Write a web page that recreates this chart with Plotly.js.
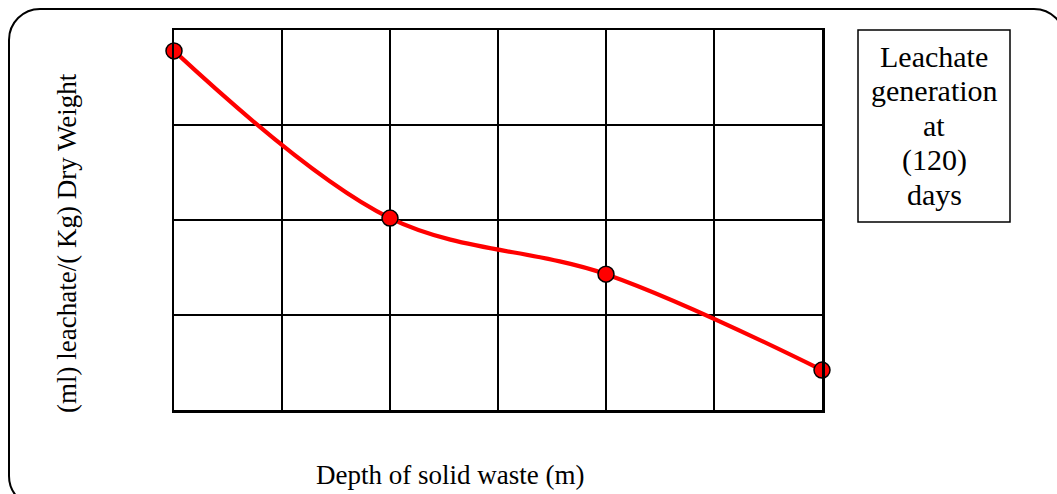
<!DOCTYPE html>
<html>
<head>
<meta charset="utf-8">
<script src="https://cdn.plot.ly/plotly-3.0.1.min.js"></script>
<style>
  html, body { margin: 0; padding: 0; background: #ffffff; }
  #wrap { position: relative; width: 1057px; height: 494px; overflow: hidden; }
  #frame { position: absolute; left: 8px; top: 8px; width: 1054px; height: 496px;
           border: 2px solid #000; border-radius: 32px; pointer-events: none; }
  #chart { position: absolute; left: 0; top: 0; width: 1057px; height: 494px; }
</style>
</head>
<body>
<div id="wrap">
  <div id="frame"></div>
  <div id="chart"></div>
</div>
<script>
// Data (positions in grid units; the chart has no tick labels)
const depth = [0, 2, 4, 6];
const leachate = [3.78, 2.02, 1.43, 0.42];

const xTitle = 'Depth of solid waste (m)';
const yTitle = '(ml) leachate/( Kg) Dry Weight';
const boxLines = ['Leachate', 'generation', 'at', '(120)', 'days'];

const FONT = 'Liberation Serif, Times New Roman, serif';

const trace = {
  x: depth,
  y: leachate,
  type: 'scatter',
  mode: 'lines+markers',
  line: { color: '#ff0000', width: 4.2, shape: 'spline', smoothing: 1 },
  marker: { color: '#ff0000', size: 16, line: { color: '#000000', width: 1.5 } },
  cliponaxis: false,
  hoverinfo: 'skip'
};

// Legend-like box text, one annotation per line
const lineCentersPx = [56, 90.5, 125, 159.5, 194];
const plotTop = 30, plotBottom = 410, plotLeft = 174, plotRight = 822;
const pxToPaperY = py => (plotBottom - py) / (plotBottom - plotTop);
const pxToPaperX = px => (px - plotLeft) / (plotRight - plotLeft);

const annotations = boxLines.map((t, i) => ({
  text: t,
  xref: 'paper', yref: 'paper',
  x: pxToPaperX(934), y: pxToPaperY(lineCentersPx[i]),
  xanchor: 'center', yanchor: 'middle',
  showarrow: false,
  font: { family: FONT, size: 30, color: '#000' }
}));

annotations.push({
  text: xTitle, xref: 'paper', yref: 'paper',
  x: pxToPaperX(450), y: pxToPaperY(475),
  xanchor: 'center', yanchor: 'middle', showarrow: false,
  font: { family: FONT, size: 27, color: '#000' }
});
annotations.push({
  text: yTitle, xref: 'paper', yref: 'paper',
  x: pxToPaperX(67), y: pxToPaperY(243),
  xanchor: 'center', yanchor: 'middle', showarrow: false, textangle: -90,
  font: { family: FONT, size: 27, color: '#000' }
});

const layout = {
  width: 1057, height: 494,
  margin: { l: plotLeft, r: 1057 - plotRight, t: plotTop, b: 494 - plotBottom, pad: 0 },
  paper_bgcolor: 'rgba(0,0,0,0)',
  plot_bgcolor: 'rgba(0,0,0,0)',
  showlegend: false,
  xaxis: {
    range: [0, 6], dtick: 1, tick0: 0,
    showticklabels: false, ticks: '',
    showgrid: true, gridcolor: '#000', gridwidth: 1.5,
    showline: true, mirror: true, linecolor: '#000', linewidth: 2.5,
    zeroline: false, fixedrange: true
  },
  yaxis: {
    range: [0, 4], dtick: 1, tick0: 0,
    showticklabels: false, ticks: '',
    showgrid: true, gridcolor: '#000', gridwidth: 1.5,
    showline: true, mirror: true, linecolor: '#000', linewidth: 2.5,
    zeroline: false, fixedrange: true
  },
  shapes: [{
    type: 'rect', xref: 'paper', yref: 'paper',
    x0: pxToPaperX(858), x1: pxToPaperX(1010),
    y0: pxToPaperY(222), y1: pxToPaperY(30),
    line: { color: '#000', width: 1.5 }, fillcolor: 'rgba(0,0,0,0)'
  }],
  annotations: annotations
};

Plotly.newPlot('chart', [trace], layout, { displayModeBar: false, staticPlot: true });
</script>
</body>
</html>
